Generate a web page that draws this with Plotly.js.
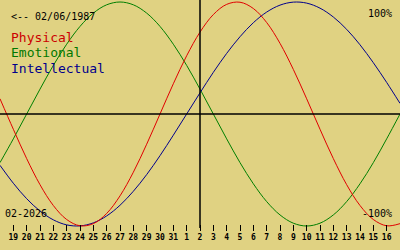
<!DOCTYPE html>
<html>
<head>
<meta charset="utf-8">
<script src="https://cdn.plot.ly/plotly-3.0.1.min.js"></script>
<style>html,body{margin:0;padding:0;background:#e0d282;}#chart{width:400px;height:250px;}</style>
</head>
<body>
<div id="chart"></div>
<script>
// Days shown: 18 Jan 2026 .. 17 Feb 2026 (one sample per day)
const startDate = '2026-01-18';
const currentDate = '2026-02-02';
const birthLabel = '<-- 02/06/1987';
const monthLabel = '02-2026';

const physical = [0.136, -0.136, -0.398, -0.631, -0.817, -0.942, -0.998, -0.979, -0.888, -0.731, -0.520, -0.270, 0, 0.270, 0.520, 0.731, 0.888, 0.979, 0.998, 0.942, 0.817, 0.631, 0.398, 0.136, -0.136, -0.398, -0.631, -0.817, -0.942, -0.998, -0.979];
const emotional = [-0.434, -0.222, 0, 0.222, 0.434, 0.623, 0.782, 0.901, 0.975, 1, 0.975, 0.901, 0.782, 0.623, 0.434, 0.222, 0, -0.222, -0.434, -0.623, -0.782, -0.901, -0.975, -1, -0.975, -0.901, -0.782, -0.623, -0.434, -0.222, 0];
const intellectual = [-0.458, -0.618, -0.756, -0.866, -0.945, -0.990, -0.999, -0.972, -0.910, -0.815, -0.690, -0.541, -0.372, -0.189, 0, 0.189, 0.372, 0.541, 0.690, 0.815, 0.910, 0.972, 0.999, 0.990, 0.945, 0.866, 0.756, 0.618, 0.458, 0.282, 0.095];

const tickLabels = ['19','20','21','22','23','24','25','26','27','28','29','30','31','1','2','3','4','5','6','7','8','9','10','11','12','13','14','15','16'];

function addDays(iso, n) {
  const d = new Date(iso + 'T00:00:00Z');
  d.setUTCDate(d.getUTCDate() + n);
  return d.toISOString().slice(0, 10);
}
const dates = physical.map((_, i) => addDays(startDate, i));
const tickDates = tickLabels.map((_, i) => addDays(startDate, i + 1));

const mono = 'DejaVu Sans Mono, monospace';
const line = (y, color) => ({x: dates, y: y, type: 'scatter', mode: 'lines', line: {color: color, width: 1, shape: 'spline', smoothing: 1}, hoverinfo: 'skip'});

const traces = [line(emotional, '#007f00'), line(intellectual, '#00008c'), line(physical, '#e00000')];

const bg = '#e0d282';
const layout = {
  width: 400, height: 250,
  margin: {l: 0, r: 0, t: 0, b: 19},
  paper_bgcolor: bg, plot_bgcolor: bg,
  showlegend: false,
  xaxis: {
    type: 'date', range: [startDate, addDays(startDate, 30)],
    tickmode: 'array', tickvals: tickDates, ticktext: tickLabels,
    ticks: 'inside', ticklen: 6, tickwidth: 1, tickcolor: '#000',
    showgrid: false, zeroline: false, showline: false,
    tickfont: {family: mono, size: 8, color: '#000', weight: 'bold'}
  },
  yaxis: {range: [-1.0446, 1.0179], visible: false, showgrid: false, zeroline: false},
  shapes: [
    {type: 'line', xref: 'paper', x0: 0, x1: 1, yref: 'y', y0: 0, y1: 0, line: {color: '#000', width: 1.5}},
    {type: 'line', xref: 'x', x0: currentDate, x1: currentDate, yref: 'paper', y0: 0.013, y1: 1, line: {color: '#000', width: 1.5}}
  ],
  annotations: [
    {text: birthLabel, xref: 'paper', yref: 'paper', x: 0.022, y: 0.9307, xanchor: 'left', yanchor: 'middle', showarrow: false, font: {family: mono, size: 10, color: '#000'}},
    {text: 'Physical', xref: 'paper', yref: 'paper', x: 0.022, y: 0.8355, xanchor: 'left', yanchor: 'middle', showarrow: false, font: {family: mono, size: 13, color: '#cc0000'}},
    {text: 'Emotional', xref: 'paper', yref: 'paper', x: 0.022, y: 0.7706, xanchor: 'left', yanchor: 'middle', showarrow: false, font: {family: mono, size: 13, color: '#007800'}},
    {text: 'Intellectual', xref: 'paper', yref: 'paper', x: 0.022, y: 0.7056, xanchor: 'left', yanchor: 'middle', showarrow: false, font: {family: mono, size: 13, color: '#00008c'}},
    {text: '100%', xref: 'paper', yref: 'paper', x: 0.985, y: 0.9437, xanchor: 'right', yanchor: 'middle', showarrow: false, font: {family: mono, size: 10, color: '#000'}},
    {text: '-100%', xref: 'paper', yref: 'paper', x: 0.985, y: 0.0779, xanchor: 'right', yanchor: 'middle', showarrow: false, font: {family: mono, size: 10, color: '#000'}},
    {text: monthLabel, xref: 'paper', yref: 'paper', x: 0.008, y: 0.0779, xanchor: 'left', yanchor: 'middle', showarrow: false, font: {family: mono, size: 10, color: '#000'}}
  ]
};

Plotly.newPlot('chart', traces, layout, {staticPlot: true, displayModeBar: false});
</script>
</body>
</html>
